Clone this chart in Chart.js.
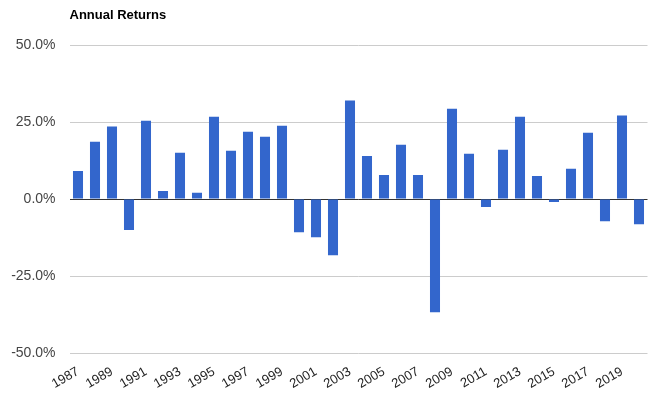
<!DOCTYPE html>
<html>
<head>
<meta charset="utf-8">
<script src="https://cdn.jsdelivr.net/npm/chart.js@4"></script>
<style>
  html, body { margin: 0; padding: 0; background: #fff; }
  #wrap { width: 653px; height: 397px; }
</style>
</head>
<body>
<div id="wrap"><canvas id="chart" width="653" height="397"></canvas></div>
<script>
const years = [];
for (let y = 1987; y <= 2020; y++) years.push(String(y));

const returns = [
    9.1, 18.6, 23.5, -10.1, 25.4, 2.6, 15.0, 2.0, 26.7, 15.7,
    21.8, 20.2, 23.8, -10.8, -12.4, -18.3, 32.0, 14.0, 7.8, 17.6,
    7.8, -36.8, 29.3, 14.7, -2.6, 16.0, 26.7, 7.5, -1.0, 9.8,
    21.5, -7.2, 27.1, -8.2
];

const yTicks = [-50, -25, 0, 25, 50];

// title drawn at the left edge of the plot area
const titlePlugin = {
    id: "leftTitle",
    afterDraw(chart) {
        const ctx = chart.ctx;
        ctx.save();
        ctx.font = "bold 13px 'Liberation Sans', Arial, sans-serif";
        ctx.fillStyle = "#000";
        ctx.textBaseline = "alphabetic";
        ctx.fillText("Annual Returns", chart.chartArea.left, 19);
        ctx.restore();
    }
};

new Chart(document.getElementById("chart"), {
    type: "bar",
    data: {
        labels: years,
        datasets: [{
            label: "Annual Returns",
            data: returns,
            backgroundColor: "#3366cc",
            categoryPercentage: 1,
            barPercentage: 0.59
        }]
    },
    options: {
        responsive: false,
        animation: false,
        layout: { padding: { top: 45, right: 5.5, left: 0, bottom: 0 } },
        plugins: {
            legend: { display: false },
            tooltip: { enabled: false }
        },
        scales: {
            x: {
                grid: { display: false },
                border: { display: false },
                ticks: {
                    autoSkip: false,
                    minRotation: 30,
                    maxRotation: 30,
                    color: "#222",
                    font: { family: "'Liberation Sans', Arial, sans-serif", size: 13 },
                    callback: function (val, i) {
                        return i % 2 === 0 ? years[i] : "";
                    }
                },
                afterFit(scale) { scale.height = 44; }
            },
            y: {
                min: -50,
                max: 50,
                afterBuildTicks(scale) {
                    scale.ticks = yTicks.map(v => ({ value: v }));
                },
                border: { display: false },
                grid: {
                    color: c => c.tick && c.tick.value === 0 ? "#333" : "#cccccc",
                    drawTicks: false
                },
                ticks: {
                    padding: 14,
                    color: "#444",
                    font: { family: "'Liberation Sans', Arial, sans-serif", size: 14 },
                    callback: v => v.toFixed(1) + "%"
                },
                afterFit(scale) { scale.width = 69.5; }
            }
        }
    },
    plugins: [titlePlugin]
});
</script>
</body>
</html>
